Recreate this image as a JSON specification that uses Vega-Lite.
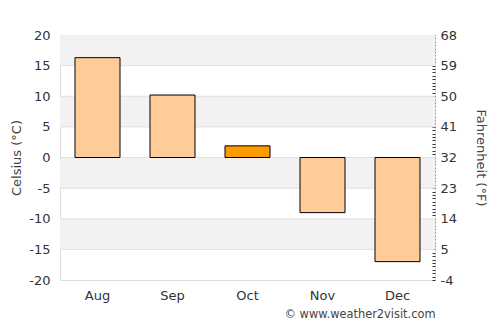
{
  "$schema": "https://vega.github.io/schema/vega-lite/v6.json",
  "width": 375,
  "height": 245,
  "autosize": "none",
  "padding": {"left": 60, "top": 35, "right": 65, "bottom": 45},
  "background": "white",
  "config": {
    "view": {"stroke": "#dddddd"},
    "font": "DejaVu Sans",
    "axis": {"labelFont": "DejaVu Sans", "titleFont": "DejaVu Sans", "labelColor": "#333333", "titleColor": "#444444", "labelFontSize": 13, "titleFontSize": 13, "titleFontWeight": "normal"}
  },
  "datasets": {
    "temps": [
      {"month": "Aug", "celsius": 16.3, "fahrenheit": 61.3},
      {"month": "Sep", "celsius": 10.2, "fahrenheit": 50.4},
      {"month": "Oct", "celsius": 1.9, "fahrenheit": 35.4},
      {"month": "Nov", "celsius": -9.0, "fahrenheit": 15.8},
      {"month": "Dec", "celsius": -17.0, "fahrenheit": 1.4}
    ],
    "bands": [
      {"lo": 15, "hi": 20},
      {"lo": 5, "hi": 10},
      {"lo": -5, "hi": 0},
      {"lo": -15, "hi": -10}
    ],
    "grid": [
      {"v": -15}, {"v": -10}, {"v": -5}, {"v": 0}, {"v": 5}, {"v": 10}, {"v": 15}
    ]
  },
  "layer": [
    {
      "layer": [
        {
          "data": {"name": "bands"},
          "mark": {"type": "rect", "fill": "#f2f2f2"},
          "encoding": {
            "y": {"field": "lo", "type": "quantitative", "scale": {"domain": [-20, 20]}, "axis": {"title": "Celsius (°C)", "values": [-20, -15, -10, -5, 0, 5, 10, 15, 20], "labelOverlap": false, "labelFlush": false, "labelExpr": "datum.value < 0 ? '-' + abs(datum.value) : '' + datum.value", "grid": false, "ticks": false, "domain": false, "labelPadding": 10, "titlePadding": 5}},
            "y2": {"field": "hi"}
          }
        },
        {
          "data": {"name": "grid"},
          "mark": {"type": "rule", "stroke": "#e0e0e0", "strokeWidth": 1},
          "encoding": {
            "y": {"field": "v", "type": "quantitative", "scale": {"domain": [-20, 20]}, "axis": {"title": "Celsius (°C)", "values": [-20, -15, -10, -5, 0, 5, 10, 15, 20], "labelOverlap": false, "labelFlush": false, "labelExpr": "datum.value < 0 ? '-' + abs(datum.value) : '' + datum.value", "grid": false, "ticks": false, "domain": false, "labelPadding": 10, "titlePadding": 5}}
          }
        },
        {
          "data": {"name": "temps"},
          "mark": {"type": "bar", "stroke": "black", "strokeWidth": 1},
          "encoding": {
            "x": {
              "field": "month", "type": "nominal", "sort": null,
              "scale": {"paddingInner": 0.4, "paddingOuter": 0.2},
              "axis": {"title": "© www.weather2visit.com", "titleAnchor": "end", "titleFontSize": 11.4, "titlePadding": 6, "titleColor": "#444444", "labelAngle": 0, "ticks": false, "domain": false, "labelPadding": 9}
            },
            "y": {
              "field": "celsius", "type": "quantitative",
              "scale": {"domain": [-20, 20]},
              "axis": {"title": "Celsius (°C)", "values": [-20, -15, -10, -5, 0, 5, 10, 15, 20], "labelOverlap": false, "labelFlush": false, "labelExpr": "datum.value < 0 ? '-' + abs(datum.value) : '' + datum.value", "grid": false, "ticks": false, "domain": false, "labelPadding": 10, "titlePadding": 5}
            },
            "color": {
              "condition": {"test": "datum.month === 'Oct'", "value": "#ff9900"},
              "value": "#ffcc99"
            }
          }
        }
      ]
    },
    {
      "data": {"name": "temps"},
      "mark": {"type": "tick", "opacity": 0},
      "encoding": {
        "y": {
          "field": "fahrenheit", "type": "quantitative",
          "scale": {"domain": [-4, 68]},
          "axis": {
            "orient": "right",
            "title": "Fahrenheit (°F)",
            "values": [-4,-3,-2,-1,0,1,2,3,4,5,6,7,8,9,10,11,12,13,14,15,16,17,18,19,20,21,22,23,24,25,26,27,28,29,30,31,32,33,34,35,36,37,38,39,40,41,42,43,44,45,46,47,48,49,50,51,52,53,54,55,56,57,58,59,60,61,62,63,64,65,66,67,68],
            "labelExpr": "(datum.value + 4) % 9 === 0 ? (datum.value < 0 ? '-' + abs(datum.value) : '' + datum.value) : ''",
            "labelOverlap": false,
            "labelFlush": false,
            "grid": false,
            "tickSize": -3,
            "tickColor": "#333333",
            "domain": false,
            "labelPadding": 8,
            "titlePadding": 17
          }
        }
      }
    }
  ],
  "resolve": {"scale": {"y": "independent"}}
}
